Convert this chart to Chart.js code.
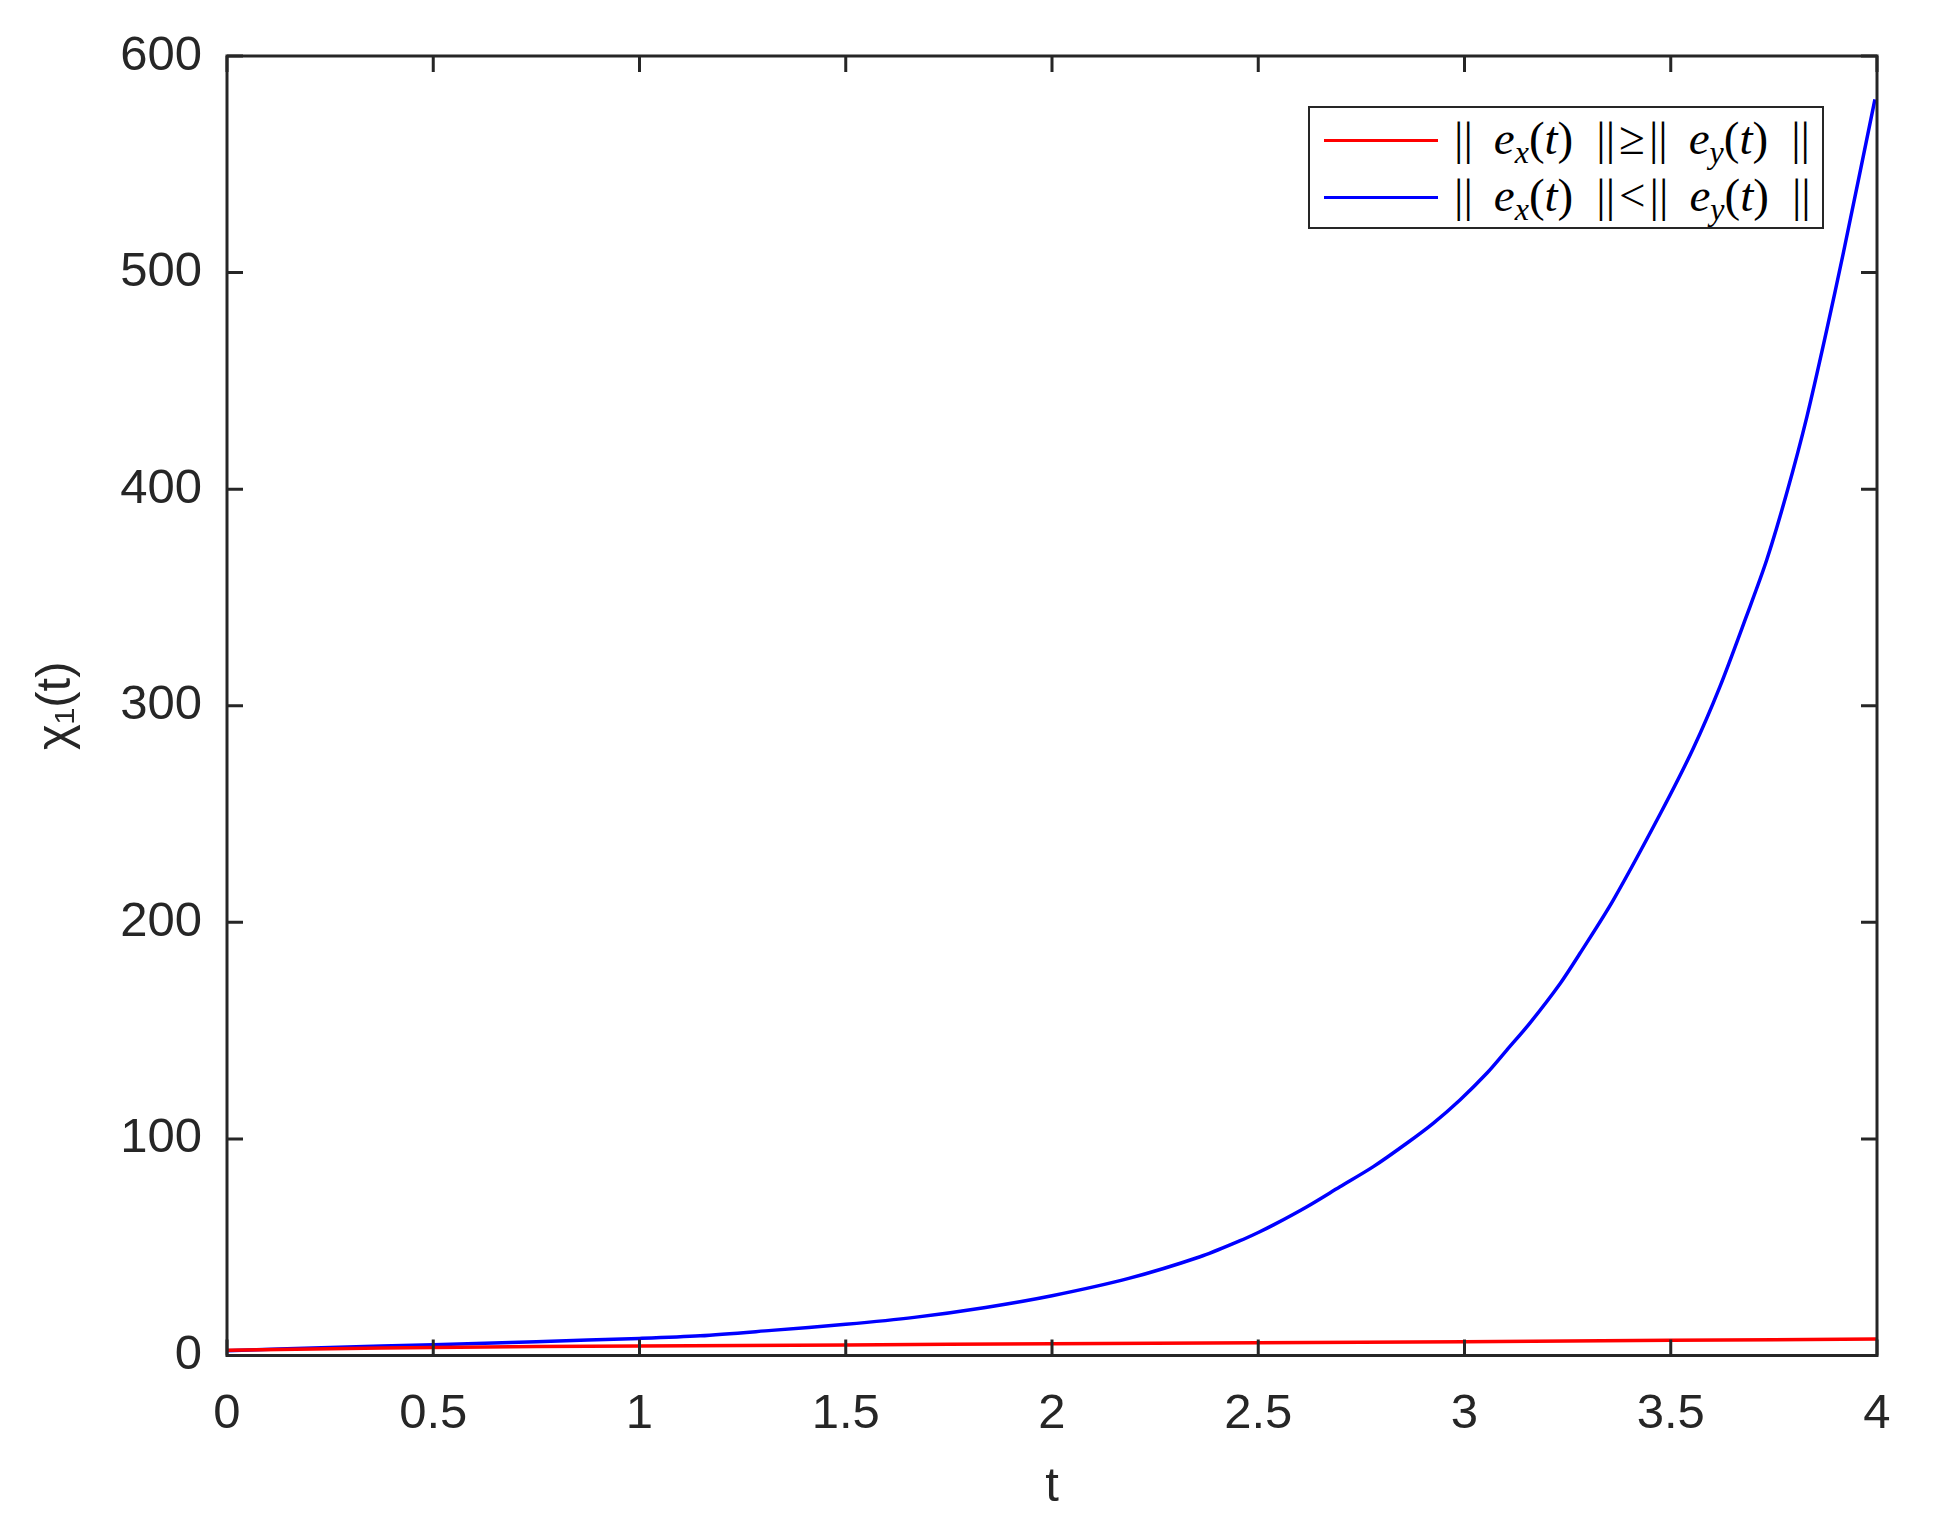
<!DOCTYPE html>
<html>
<head>
<meta charset="utf-8">
<script src="https://cdn.jsdelivr.net/npm/chart.js@4.4.1/dist/chart.umd.min.js"></script>
<style>
  html, body { margin: 0; padding: 0; background: #fff; }
  #wrap { position: relative; width: 1939px; height: 1528px; }
  #legend {
    position: absolute; left: 1308px; top: 106px; width: 512px; height: 119px;
    border: 2.5px solid #262626; background: #fff;
    font-family: "Liberation Serif", "DejaVu Serif", serif; font-size: 47px; color: #000;
  }
  .row { position: absolute; left: 0; height: 60px; line-height: 60px; white-space: nowrap; }
  .sw { position: absolute; left: 14px; width: 114px; height: 3.5px; }
  .txt { position: absolute; left: 144px; top: -3px; }
  .txt i { font-style: italic; }
  .txt sub { font-size: 0.68em; line-height: 0; vertical-align: -0.28em; font-style: italic; }
</style>
</head>
<body>
<div id="wrap">
  <canvas id="c" width="1939" height="1528"></canvas>
  <div id="legend"></div>
</div>
<script>
// ---- data ----
const xTicks = [0, 0.5, 1, 1.5, 2, 2.5, 3, 3.5, 4];
const xTickLabels = ['0', '0.5', '1', '1.5', '2', '2.5', '3', '3.5', '4'];
const yTicks = [0, 100, 200, 300, 400, 500, 600];
const yTickLabels = ['0', '100', '200', '300', '400', '500', '600'];

const tBlue = [0, 0.25, 0.5, 0.75, 1.0, 1.147, 1.32, 1.5, 1.666, 1.839, 2.0, 2.186, 2.359, 2.456, 2.5, 2.537, 2.617, 2.698, 2.779, 2.86, 2.924, 2.989, 3.054, 3.102, 3.159, 3.232, 3.28, 3.361, 3.474, 3.555, 3.619, 3.684, 3.733, 3.781, 3.83, 3.878, 3.918, 3.995];
const blueVals = [2.2, 3.7, 5.0, 6.4, 7.9, 9.1, 11.6, 14.4, 17.6, 22.2, 27.6, 35.6, 45.6, 53.0, 56.8, 60.3, 68.6, 77.9, 87.2, 98.0, 107.2, 118.0, 130.3, 140.9, 153.6, 171.8, 185.7, 210.4, 249.9, 280.5, 308.7, 341.6, 367.5, 398.1, 433.4, 473.4, 508.7, 580];

const tRed = [0, 0.25, 0.5, 0.75, 1.0, 1.5, 2.0, 2.5, 3.0, 3.5, 4.0];
const redVals = [2.4, 3.1, 3.7, 4.1, 4.4, 4.9, 5.4, 5.9, 6.4, 7.0, 7.6];

const seriesNames = ['‖ex(t)‖ ≥ ‖ey(t)‖', '‖ex(t)‖ < ‖ey(t)‖'];
const seriesColors = ['#ff0000', '#0000ff'];

// ---- chart ----
const AXIS = '#262626';
const FONT = { family: '"Liberation Sans", Arial, Helvetica, sans-serif', size: 49 };

const frameTicks = {
  id: 'frameTicks',
  afterDatasetsDraw(chart) {
    const { ctx, chartArea: a, scales: { x, y } } = chart;
    const L = 16;
    ctx.save();
    ctx.strokeStyle = AXIS;
    ctx.lineWidth = 3;
    ctx.beginPath();
    x.ticks.forEach(t => {
      const px = x.getPixelForValue(t.value);
      ctx.moveTo(px, a.bottom); ctx.lineTo(px, a.bottom - L);
      ctx.moveTo(px, a.top); ctx.lineTo(px, a.top + L);
    });
    y.ticks.forEach(t => {
      const py = y.getPixelForValue(t.value);
      ctx.moveTo(a.left, py); ctx.lineTo(a.left + L, py);
      ctx.moveTo(a.right, py); ctx.lineTo(a.right - L, py);
    });
    ctx.stroke();
    ctx.strokeRect(a.left, a.top, a.right - a.left, a.bottom - a.top);
    ctx.restore();
  }
};

new Chart(document.getElementById('c'), {
  type: 'line',
  data: {
    datasets: [
      {
        label: seriesNames[0],
        data: tRed.map((t, i) => ({ x: t, y: redVals[i] })),
        borderColor: seriesColors[0], borderWidth: 3.5, pointRadius: 0, fill: false,
        tension: 0.3
      },
      {
        label: seriesNames[1],
        data: tBlue.map((t, i) => ({ x: t, y: blueVals[i] })),
        borderColor: seriesColors[1], borderWidth: 3.5, pointRadius: 0, fill: false,
        tension: 0.3
      }
    ]
  },
  options: {
    responsive: false,
    animation: false,
    devicePixelRatio: 1,
    layout: { padding: { left: 0, right: 62, top: 56, bottom: 0 } },
    plugins: { legend: { display: false }, tooltip: { enabled: false } },
    scales: {
      x: {
        type: 'linear', min: 0, max: 4,
        afterBuildTicks: s => { s.ticks = xTicks.map(v => ({ value: v })); },
        afterFit: s => { s.height = 172.5; },
        grid: { display: false, drawTicks: false },
        border: { display: false },
        ticks: { color: AXIS, font: FONT, padding: 30, maxRotation: 0, autoSkip: false,
                 callback: (v, i) => xTickLabels[i] },
        title: { display: true, text: 't', color: AXIS, font: FONT, padding: { top: 0, bottom: 11 } }
      },
      y: {
        type: 'linear', min: 0, max: 600,
        afterBuildTicks: s => { s.ticks = yTicks.map(v => ({ value: v })); },
        afterFit: s => { s.width = 227; },
        grid: { display: false, drawTicks: false },
        border: { display: false },
        ticks: { color: AXIS, font: FONT, padding: 25, autoSkip: false,
                 callback: (v, i) => yTickLabels[i] },
        title: { display: true, text: 'χ₁(t)', color: AXIS, font: FONT, padding: { top: 27, bottom: 0 } }
      }
    }
  },
  plugins: [frameTicks]
});

// ---- legend (real text) ----
const legendRows = [
  { color: seriesColors[0], rel: '≥' },
  { color: seriesColors[1], rel: '&lt;' }
];
const lg = document.getElementById('legend');
legendRows.forEach((r, i) => {
  const row = document.createElement('div');
  row.className = 'row';
  row.style.top = (2.5 + i * 57) + 'px';
  row.style.width = '100%';
  const sw = document.createElement('div');
  sw.className = 'sw';
  sw.style.background = r.color;
  sw.style.top = '28.25px';
  const tx = document.createElement('div');
  tx.className = 'txt';
  tx.innerHTML =
    '<span>||</span>' +
    '<span style="margin-left:21px"><i>e</i><sub>x</sub>(<i>t</i>)</span>' +
    '<span style="margin-left:23px">||</span>' +
    '<span style="margin:0 4px">' + r.rel + '</span>' +
    '<span>||</span>' +
    '<span style="margin-left:21px"><i>e</i><sub>y</sub>(<i>t</i>)</span>' +
    '<span style="margin-left:23px">||</span>';
  row.appendChild(sw);
  row.appendChild(tx);
  lg.appendChild(row);
});
</script>
</body>
</html>
